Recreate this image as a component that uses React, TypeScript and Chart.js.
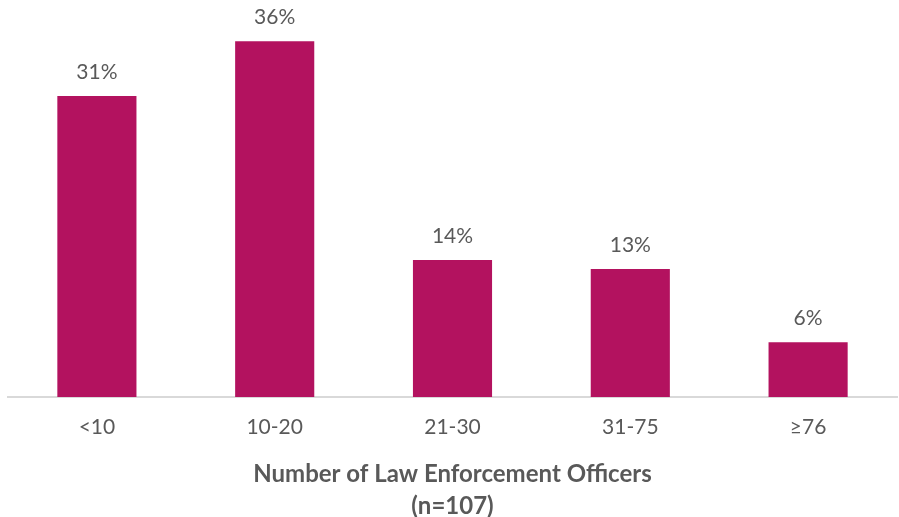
import React, { useEffect, useRef } from "react";
import { Chart, registerables } from "chart.js";

Chart.register(...registerables);

const categories = ["<10", "10-20", "21-30", "31-75", "≥76"];
const shares = [30.8, 36.4, 14.0, 13.1, 5.6];
const axisTitle = ["Number of Law Enforcement Officers", "(n=107)"];

const FONT = "Lato, 'Open Sans', sans-serif";
const TEXT = "#595959";

const labelPlugin = {
  id: "barLabels",
  afterDatasetsDraw(chart: any) {
    const ctx = chart.ctx;
    const meta = chart.getDatasetMeta(0);
    ctx.save();
    ctx.font = `21px ${FONT}`;
    ctx.fillStyle = TEXT;
    ctx.textAlign = "center";
    ctx.textBaseline = "bottom";
    meta.data.forEach((el: any, i: number) => {
      const v = chart.data.datasets[0].data[i];
      ctx.fillText(`${Math.round(v)}%`, el.x, el.y - 13);
    });
    ctx.restore();
  },
};

export default function App() {
  const ref = useRef<HTMLCanvasElement>(null);
  useEffect(() => {
    const chart = new Chart(ref.current!, {
      type: "bar",
      data: {
        labels: categories,
        datasets: [
          {
            data: shares,
            backgroundColor: "#b3125f",
            barPercentage: 0.445,
            categoryPercentage: 1,
          },
        ],
      },
      options: {
        animation: false,
        responsive: false,
        layout: { padding: { left: 8, right: 2, top: 6, bottom: -5 } },
        plugins: { legend: { display: false }, tooltip: { enabled: false } },
        scales: {
          y: { display: false, min: 0, max: 40 },
          x: {
            grid: { display: false, drawTicks: false },
            border: { color: "#d9d9d9", width: 2 },
            ticks: { color: TEXT, font: { size: 21, family: FONT }, padding: 18 },
            title: {
              display: true,
              text: axisTitle,
              color: TEXT,
              font: { size: 24, weight: "bold", family: FONT, lineHeight: 1.33 },
              padding: { top: 0, bottom: 0 },
            },
          },
        },
      },
      plugins: [labelPlugin],
    });
    return () => chart.destroy();
  }, []);
  return (
    <div style={{ position: "fixed", left: 0, top: 0, width: 899, height: 517, background: "#fff" }}>
      <canvas ref={ref} width={899} height={517} />
    </div>
  );
}
